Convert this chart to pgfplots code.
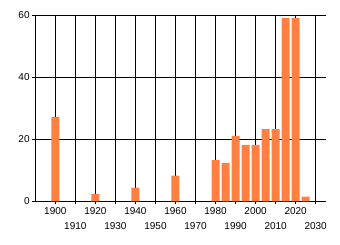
\documentclass[border=0pt]{standalone}
\usepackage{pgfplots}
\pgfplotsset{compat=1.18}
\usepackage{fontspec}
\setmainfont{Liberation Sans}
\usetikzlibrary{calc}
\definecolor{barc}{HTML}{FF8040}
\begin{document}
\begin{tikzpicture}
\begin{axis}[
  name=ax,
  scale only axis,
  width=290.4bp, height=186bp,
  xmin=1890, xmax=2035,
  ymin=0, ymax=60,
  axis x line*=bottom,
  axis y line*=left,
  axis line style={black, line width=1bp},
  ybar, bar width=8bp,
  xtick={1900,1920,...,2020},
  extra x ticks={1910,1930,...,2030},
  extra x tick style={grid=major, xticklabel style={yshift=-15.4bp}},
  ytick={0,20,40,60},
  grid=major,
  major grid style={black, line width=1bp},
  tick style={black, line width=1bp},
  tick align=outside,
  major tick length=3bp,
  xticklabel style={anchor=north, inner sep=0pt, yshift=-3bp},
  yticklabel style={anchor=east, inner sep=0pt, xshift=-2.5bp},
  /pgf/number format/1000 sep={},
  /pgf/number format/assume math mode=true,
  tick label style={font=\fontsize{10bp}{11bp}\selectfont, text=black},
  clip=false,
]
\addplot[fill=barc, draw=none] coordinates {
(1900,27.2) (1920,2.4) (1940,4.4) (1960,8.3) (1980,13.3) (1985,12.4)
(1990,21.1) (1995,18.2) (2000,18.2) (2005,23.3) (2010,23.3)
(2015,59.1) (2020,59.1) (2025,1.5)
};
\end{axis}
\pgfresetboundingbox
\path ($(ax.south west)+(-35.3bp,-43.7bp)$) rectangle ($(ax.north east)+(14.3bp,15.3bp)$);
\end{tikzpicture}
\end{document}
